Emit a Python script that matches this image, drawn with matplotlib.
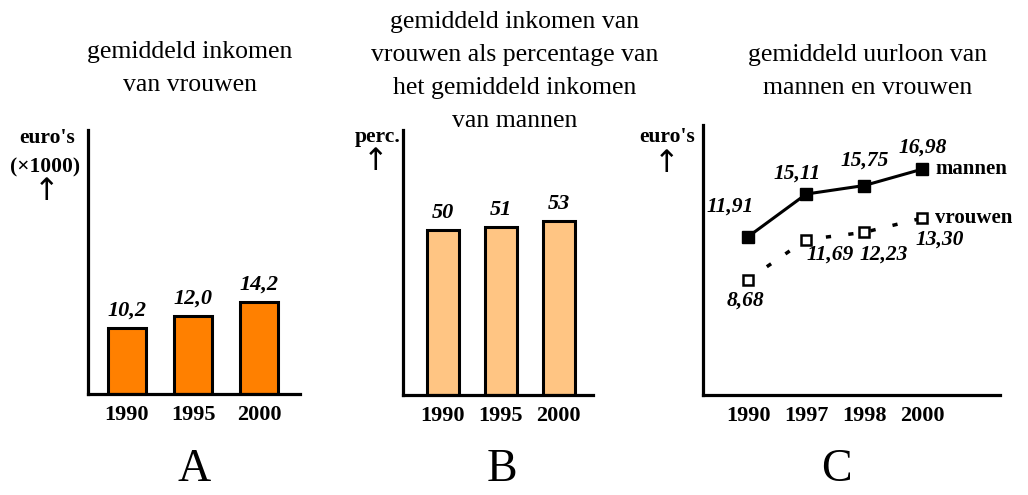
import matplotlib.pyplot as plt

# data
jaren_a = ["1990", "1995", "2000"]
inkomen_vrouwen = [10.2, 12.0, 14.2]
labels_a = ["10,2", "12,0", "14,2"]

jaren_b = ["1990", "1995", "2000"]
percentage = [50, 51, 53]
labels_b = ["50", "51", "53"]

jaren_c = ["1990", "1997", "1998", "2000"]
uurloon_mannen = [11.91, 15.11, 15.75, 16.98]
uurloon_vrouwen = [8.68, 11.69, 12.23, 13.30]
labels_mannen = ["11,91", "15,11", "15,75", "16,98"]
labels_vrouwen = ["8,68", "11,69", "12,23", "13,30"]

SERIF = ["Liberation Serif", "DejaVu Serif"]
W, H = 1028, 495

fig = plt.figure(figsize=(W / 100, H / 100), dpi=100)


def px_axes(left, top, right, bottom):
    return fig.add_axes([left / W, 1 - bottom / H, (right - left) / W, (bottom - top) / H])


def fig_text(x, y, s, va="center", **kw):
    kw.setdefault("family", SERIF)
    fig.text(x / W, 1 - y / H, s, ha="center", va=va, **kw)


def style(ax):
    for k in ["top", "right"]:
        ax.spines[k].set_visible(False)
    for k in ["left", "bottom"]:
        ax.spines[k].set_linewidth(2.3)
    ax.set_yticks([])
    ax.tick_params(axis="x", length=0, pad=8)
    for lab in ax.get_xticklabels():
        lab.set_fontfamily(SERIF)
        lab.set_fontweight("bold")
        lab.set_fontsize(16)


# Paneel A
ax1 = px_axes(88, 130, 300, 394)
xa = range(len(jaren_a))
ax1.bar(xa, inkomen_vrouwen, width=0.58, color="#ff8000", edgecolor="black", linewidth=2.2)
ax1.set_xlim(-0.59, 2.62)
ax1.set_ylim(0, 40.6)
ax1.set_xticks(list(xa), jaren_a)
style(ax1)
for i, v in enumerate(inkomen_vrouwen):
    ax1.annotate(labels_a[i], (i, v), xytext=(0, 17), textcoords="offset pixels",
                 ha="center", va="center", family=SERIF, fontsize=16,
                 fontweight="bold", style="italic")

# Paneel B
ax2 = px_axes(403, 130, 593, 395)
xb = range(len(jaren_b))
ax2.bar(xb, percentage, width=0.55, color="#ffc583", edgecolor="black", linewidth=2.2)
ax2.set_xlim(-0.69, 2.59)
ax2.set_ylim(0, 80.5)
ax2.set_xticks(list(xb), jaren_b)
style(ax2)
for i, v in enumerate(percentage):
    ax2.annotate(labels_b[i], (i, v), xytext=(0, 17), textcoords="offset pixels",
                 ha="center", va="center", family=SERIF, fontsize=16,
                 fontweight="bold", style="italic")

# Paneel C
ax3 = px_axes(703, 125, 1000, 395)
xc = list(range(len(jaren_c)))
ax3.plot(xc, uurloon_mannen, color="black", linewidth=2.2, marker="s",
         markersize=8.5, markerfacecolor="black")
ax3.plot(xc, uurloon_vrouwen, color="black", linewidth=2.5, linestyle=(0, (1.5, 5)),
         marker="s", markersize=6.5, markerfacecolor="white", markeredgewidth=1.8)
ax3.set_xlim(-0.78, 4.34)
ax3.set_ylim(0, 20.3)
ax3.set_xticks(xc, jaren_c)
style(ax3)

off_m = [(-18, 30), (-9, 20), (0, 25), (0, 22)]
off_v = [(-3, -21), (24, -15), (19, -22), (17, -21)]
for i in xc:
    ax3.annotate(labels_mannen[i], (i, uurloon_mannen[i]), xytext=off_m[i],
                 textcoords="offset pixels", ha="center", va="center", family=SERIF,
                 fontsize=15.5, fontweight="bold", style="italic")
    ax3.annotate(labels_vrouwen[i], (i, uurloon_vrouwen[i]), xytext=off_v[i],
                 textcoords="offset pixels", ha="center", va="center", family=SERIF,
                 fontsize=15.5, fontweight="bold", style="italic")
ax3.annotate("mannen", (xc[-1], uurloon_mannen[-1]), xytext=(13, 0), textcoords="offset pixels",
             ha="left", va="center", family=SERIF, fontsize=15, fontweight="bold")
ax3.annotate("vrouwen", (xc[-1], uurloon_vrouwen[-1]), xytext=(13, 0), textcoords="offset pixels",
             ha="left", va="center", family=SERIF, fontsize=15, fontweight="bold")

# as-labels
pijl = dict(fontsize=22, family=["DejaVu Sans"])
fig_text(47, 138, "euro's", fontsize=15.5, fontweight="bold")
fig_text(45, 167, "(×1000)", fontsize=15.5, fontweight="bold")
fig_text(47, 192, "↑", **pijl)
fig_text(378, 137, "perc.", fontsize=15.5, fontweight="bold")
fig_text(376, 161, "↑", **pijl)
fig_text(667, 137, "euro's", fontsize=15.5, fontweight="bold")
fig_text(667, 164, "↑", **pijl)

# titels
fig_text(190, 52, "gemiddeld inkomen", fontsize=18.5)
fig_text(190, 85, "van vrouwen", fontsize=18.5)
for y, s in zip([22, 55, 88, 121], ["gemiddeld inkomen van", "vrouwen als percentage van",
                                     "het gemiddeld inkomen", "van mannen"]):
    fig_text(515, y, s, fontsize=18.5)
fig_text(868, 55, "gemiddeld uurloon van", fontsize=18.5)
fig_text(868, 88, "mannen en vrouwen", fontsize=18.5)

# panel letters
fig_text(194, 481, "A", va="baseline", fontsize=33)
fig_text(502, 481, "B", va="baseline", fontsize=33)
fig_text(836, 481, "C", va="baseline", fontsize=33)

fig.savefig("out.png", dpi=100)
